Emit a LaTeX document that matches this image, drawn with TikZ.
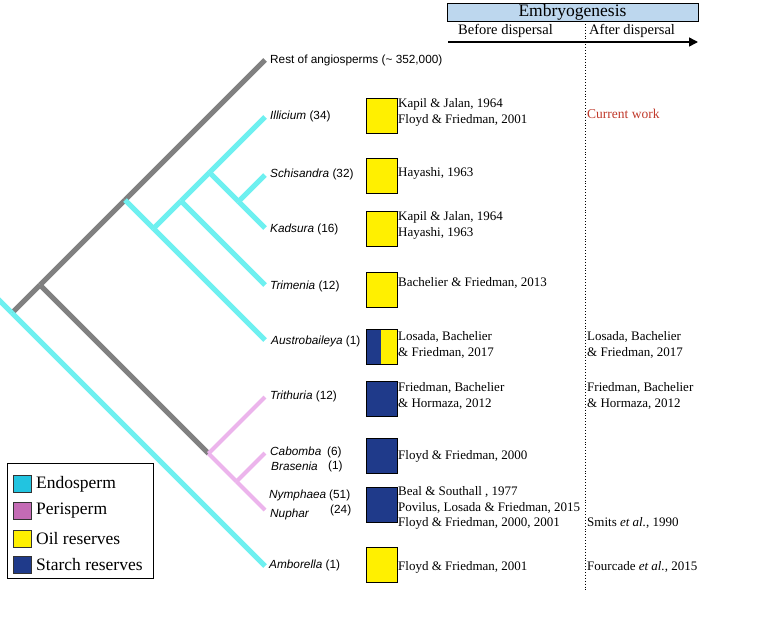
\documentclass[tikz,border=0pt]{standalone}
\usepackage{fontspec}
\setmainfont{Liberation Serif}
\newfontfamily\sansf{Liberation Sans}
\usetikzlibrary{arrows.meta}
\definecolor{brgray}{RGB}{128,128,128}
\definecolor{brcyan}{RGB}{110,240,240}
\definecolor{brpink}{RGB}{236,180,236}
\definecolor{legcyan}{RGB}{34,196,224}
\definecolor{legpink}{RGB}{196,107,181}
\definecolor{oilc}{RGB}{255,240,0}
\definecolor{starchc}{RGB}{31,58,138}
\definecolor{hdrblue}{RGB}{189,215,238}
\definecolor{curred}{RGB}{192,57,43}
\begin{document}
\begin{tikzpicture}[x=1pt,y=-1pt,
 gbr/.style={draw=brgray,line width=5pt},
 cbr/.style={draw=brcyan,line width=5pt},
 pbr/.style={draw=brpink,line width=4pt},
 taxon/.style={anchor=mid west,inner sep=0pt,font=\sansf\fontsize{11.8}{14}\selectfont},
 cite/.style={anchor=west,inner sep=0pt,align=left,font=\fontsize{13}{15.8}\selectfont},
 resbox/.style={draw=black,line width=1.2pt,minimum width=31pt,minimum height=35pt,inner sep=0pt,anchor=north west},
 oilbox/.style={resbox,fill=oilc},
 starchbox/.style={resbox,fill=starchc},
 legsq/.style={draw=black!80,line width=0.8pt,minimum width=18pt,minimum height=17pt,inner sep=0pt},
 legtxt/.style={anchor=west,inner sep=0pt,font=\fontsize{17.5}{20}\selectfont},
]
\useasboundingbox (0,0) rectangle (764,640);

% tips
\coordinate (tRest) at (265,60);
\coordinate (tIll) at (265,117);
\coordinate (tSch) at (265,175);
\coordinate (tKad) at (265,228);
\coordinate (tTri) at (265,285);
\coordinate (tAus) at (265,340);
\coordinate (tTrith) at (265,397);
\coordinate (tCab) at (265,453);
\coordinate (tNym) at (265,510);
\coordinate (tAmb) at (265,566);
% internal nodes
\coordinate (nG) at (238.5,201.5);
\coordinate (nF) at (209.5,172.5);
\coordinate (nE) at (181,201);
\coordinate (nD) at (153.5,228.5);
\coordinate (nC) at (125,200);
\coordinate (nH) at (208.5,453.5);
\coordinate (nI) at (236.5,481.5);
\coordinate (nB) at (40,285);
\coordinate (nR) at (12,313);
\coordinate (root) at (-6,295);

% gray branches
\draw[gbr] (nR) -- (nB);
\draw[gbr] (nB) -- (nC);
\draw[gbr] (nC) -- (tRest);
\draw[gbr] (nB) -- (nH);
% cyan branches
\draw[cbr] (root) -- (nR);
\draw[cbr] (nR) -- (tAmb);
\draw[cbr] (nC) -- (nD);
\draw[cbr] (nD) -- (tAus);
\draw[cbr] (nD) -- (nE);
\draw[cbr] (nE) -- (nF);
\draw[cbr] (nF) -- (tIll);
\draw[cbr] (nE) -- (tTri);
\draw[cbr] (nF) -- (nG);
\draw[cbr] (nG) -- (tKad);
\draw[cbr] (nG) -- (tSch);
% pink branches
\draw[pbr] (nH) -- (tTrith);
\draw[pbr] (nH) -- (nI);
\draw[pbr] (nI) -- (tNym);
\draw[pbr] (nI) -- (tCab);

% taxon labels
\node[taxon] (lRest) at (270,61) {Rest of angiosperms (\textasciitilde{} 352,000)};
\node[taxon] (lIll) at (270,117) {\itshape Illicium\upshape{} (34)};
\node[taxon] (lSch) at (270,175) {\itshape Schisandra\upshape{} (32)};
\node[taxon] (lKad) at (270,230) {\itshape Kadsura\upshape{} (16)};
\node[taxon] (lTri) at (270,287) {\itshape Trimenia\upshape{} (12)};
\node[taxon] (lAus) at (271,342) {\itshape Austrobaileya\upshape{} (1)};
\node[taxon] (lTrith) at (270,397) {\itshape Trithuria\upshape{} (12)};
\node[taxon] (lCab) at (270,453) {\itshape Cabomba};
\node[taxon] (lCabn) at (327,453) {(6)};
\node[taxon] (lBra) at (271,468) {\itshape Brasenia};
\node[taxon] (lBran) at (328,467) {(1)};
\node[taxon] (lNym) at (269,496) {\itshape Nymphaea};
\node[taxon] (lNymn) at (329,496) {(51)};
\node[taxon] (lNup) at (270,515) {\itshape Nuphar};
\node[taxon] (lNupn) at (330,511) {(24)};
\node[taxon] (lAmb) at (269,566) {\itshape Amborella\upshape{} (1)};

% reserve boxes
\node[oilbox] (bIll) at (366,98) {};
\node[oilbox] (bSch) at (366,158) {};
\node[oilbox] (bKad) at (366,211) {};
\node[oilbox] (bTri) at (366,272) {};
\node[oilbox, path picture={\fill[starchc] (path picture bounding box.north west) rectangle ([xshift=14pt]path picture bounding box.south west);}] (bAus) at (366,329) {};
\node[starchbox] (bTrith) at (366,381) {};
\node[starchbox] (bCab) at (366,438) {};
\node[starchbox] (bNym) at (366,487) {};
\node[oilbox] (bAmb) at (366,547) {};

% citations before dispersal
\node[cite] (cIll) at (398,112) {Kapil \& Jalan, 1964\\Floyd \& Friedman, 2001};
\node[cite] (cSch) at (398,173) {Hayashi, 1963};
\node[cite] (cKad) at (398,225) {Kapil \& Jalan, 1964\\Hayashi, 1963};
\node[cite] (cTri) at (398,283) {Bachelier \& Friedman, 2013};
\node[cite] (cAus) at (398,345) {Losada, Bachelier\\\& Friedman, 2017};
\node[cite] (cTrith) at (398,396) {Friedman, Bachelier\\\& Hormaza, 2012};
\node[cite] (cCab) at (398,456) {Floyd \& Friedman, 2000};
\node[cite] (cNym) at (398,508) {Beal \& Southall , 1977\\Povilus, Losada \& Friedman, 2015\\Floyd \& Friedman, 2000, 2001};
\node[cite] (cAmb) at (398,567) {Floyd \& Friedman, 2001};

% citations after dispersal
\node[cite, text=curred, font=\fontsize{13.5}{16}\selectfont] (aIll) at (587,114) {Current work};
\node[cite] (aAus) at (587,345) {Losada, Bachelier\\\& Friedman, 2017};
\node[cite] (aTrith) at (587,396) {Friedman, Bachelier\\\& Hormaza, 2012};
\node[cite] (aNym) at (587,523) {Smits \textit{et al.}, 1990};
\node[cite] (aAmb) at (587,567) {Fourcade \textit{et al.}, 2015};

% header
\coordinate (dotT) at (585.5,21);
\coordinate (dotB) at (585.5,590);
\draw[dotted, line width=0.9pt] (dotT) -- (dotB);
\node[draw=black, line width=1pt, fill=hdrblue, minimum width=251pt, minimum height=18pt, inner sep=0pt, font=\fontsize{17.5}{18}\selectfont] (hdr) at (572.5,12) {Embryogenesis};
\node[anchor=mid west, inner sep=0pt, font=\fontsize{14.5}{16}\selectfont] (before) at (458,32) {Before dispersal};
\node[anchor=mid west, inner sep=0pt, font=\fontsize{14.5}{16}\selectfont] (after) at (589,32) {After dispersal};
\coordinate (arrS) at (448,42);
\coordinate (arrE) at (698,42);
\draw[line width=1.5pt, -{Triangle[length=9pt,width=9pt]}] (arrS) -- (arrE);

% legend
\node[draw=black, line width=1.2pt, fill=white, minimum width=146pt, minimum height=115pt, inner sep=0pt, anchor=north west] (leg) at (7,463) {};
\node[legsq, fill=legcyan] (sqEndo) at (22,484) {};
\node[legsq, fill=legpink] (sqPeri) at (22,511) {};
\node[legsq, fill=oilc] (sqOil) at (22,539) {};
\node[legsq, fill=starchc] (sqSt) at (22,564.5) {};
\node[legtxt] (tEndo) at (36,484) {Endosperm};
\node[legtxt] (tPeri) at (36,511) {Perisperm};
\node[legtxt] (tOil) at (36,539) {Oil reserves};
\node[legtxt] (tSt) at (36,564.5) {Starch reserves};
\end{tikzpicture}
\end{document}
